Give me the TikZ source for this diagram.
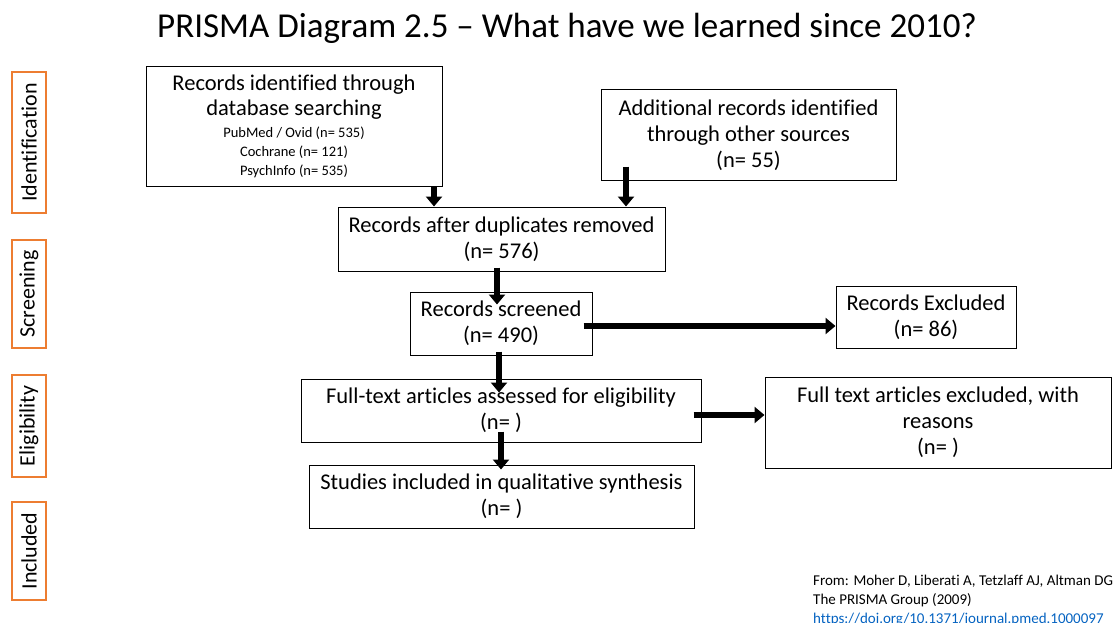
\documentclass[tikz,border=0pt]{standalone}
\usepackage{fontspec}
\setmainfont{Carlito}[Ligatures=NoCommon]
\usetikzlibrary{arrows.meta,calc}
\definecolor{stageorange}{RGB}{237,125,49}
\definecolor{linkblue}{RGB}{5,99,193}
\begin{document}
\begin{tikzpicture}[x=1pt,y=-1pt,
  box/.style={draw=black,line width=1pt,inner sep=0pt,align=center,
    font=\fontsize{22.5}{26}\selectfont},
  stage/.style={draw=stageorange,line width=1.4pt,inner sep=0pt,rotate=90,
    font=\fontsize{22}{24}\selectfont},
  arr/.style={line width=6.5pt,-{Triangle[length=10pt,width=16pt]}}]
\useasboundingbox (0,0) rectangle (1116,623);

% title
\node[font=\fontsize{35}{38}\selectfont] (title) at (567,28) {PRISMA Diagram 2.5 -- What have we learned since 2010?};

% stage labels down the left side
\node[stage,minimum width=141,minimum height=34] (sid) at (29,142.5) {Identification};
\node[stage,minimum width=108,minimum height=34] (sscr) at (29,294) {Screening};
\node[stage,minimum width=102,minimum height=34] (selig) at (29,426) {Eligibility};
\node[stage,minimum width=98,minimum height=34] (sinc) at (29,551) {Included};

% flow boxes
\node[box,minimum width=296,minimum height=119] (A) at (294,126.5)
  {Records identified through\\[-1pt]database searching\\[-4pt]
   {\fontsize{14.5}{18}\selectfont PubMed / Ovid (n= 535)}\\[-7pt]
   {\fontsize{14.5}{18}\selectfont Cochrane (n= 121)}\\[-7pt]
   {\fontsize{14.5}{18}\selectfont PsychInfo (n= 535)}};
\node[box,minimum width=295,minimum height=90] (B) at (748.5,135)
  {Additional records identified\\through other sources\\(n= 55)};
\node[box,minimum width=327,minimum height=64] (C) at (501.5,239)
  {Records after duplicates removed\\(n= 576)};
\node[box,minimum width=182,minimum height=63] (D) at (501,323.5)
  {Records screened\\(n= 490)};
\node[box,minimum width=180,minimum height=62] (E) at (926,317)
  {Records Excluded\\(n= 86)};
\node[box,minimum width=400,minimum height=63] (F) at (501,410.5)
  {Full-text articles assessed for eligibility\\(n= )};
\node[box,minimum width=346,minimum height=91] (G) at (938,422.5)
  {Full text articles excluded, with\\reasons\\(n= )};
\node[box,minimum width=385,minimum height=63] (H) at (501.5,496.5)
  {Studies included in qualitative synthesis\\(n= )};

% connectors
\draw[arr] (A.south -| 434,0) -- (C.north -| 434,0);
\draw[arr] ($(B.south -| 626,0)+(0,-14)$) -- (C.north -| 626,0);
\draw[arr] ($(C.south -| 497,0)+(0,-4)$) -- ($(D.north -| 497,0)+(0,13)$);
\draw[arr] ($(D.east |- 0,326)+(-9,0)$) -- (E.west |- 0,326);
\draw[arr] ($(D.south -| 499,0)+(0,-4)$) -- ($(F.north -| 499,0)+(0,14)$);
\draw[arr] ($(F.east |- 0,415)+(-8,0)$) -- (G.west |- 0,415);
\draw[arr] ($(F.south -| 501,0)+(0,-11)$) -- ($(H.north -| 501,0)+(0,5)$);

% source note
\node[anchor=north west,align=left,inner sep=0pt,
  font=\fontsize{15}{19}\selectfont] (src) at (813,575)
  {From: Moher D, Liberati A, Tetzlaff AJ, Altman DG\\
   The PRISMA Group (2009)\\
   \textcolor{linkblue}{https://doi.org/10.1371/journal.pmed.1000097}};
\end{tikzpicture}
\end{document}
